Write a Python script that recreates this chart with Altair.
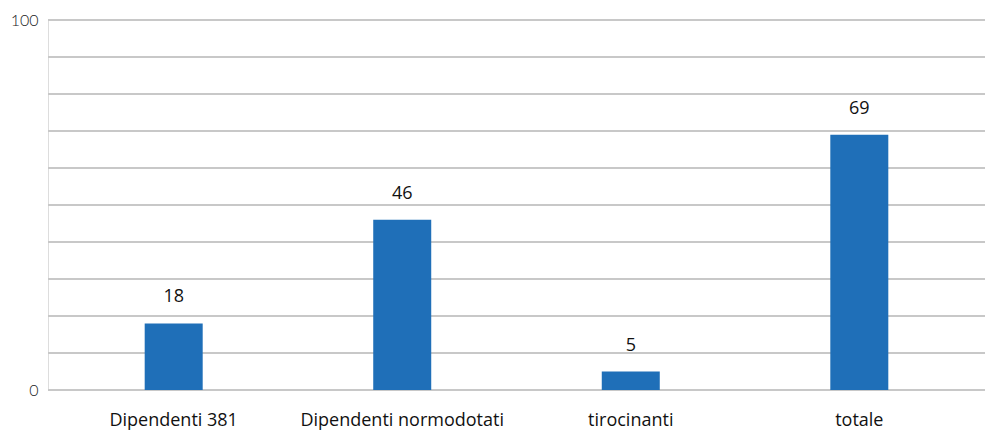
import altair as alt
import pandas as pd

categories = ["Dipendenti 381", "Dipendenti normodotati", "tirocinanti", "totale"]
values = [18, 46, 5, 69]
grid_values = [0, 10, 20, 30, 40, 50, 60, 70, 80, 90, 100]

df = pd.DataFrame({"cat": categories, "val": values})
gdf = pd.DataFrame({"g": grid_values})

yscale = alt.Scale(domain=[0, 100], nice=False)
yaxis = alt.Axis(values=[0, 100], domain=False, ticks=False, grid=False,
                 labelFont="Lato", labelFontSize=16, labelFontWeight=300,
                 labelColor="#222222", labelPadding=10)

grid = alt.Chart(gdf).mark_rule(color="#c8c8c8", strokeWidth=2).encode(
    y=alt.Y("g:Q", scale=yscale, title=None, axis=yaxis))

x = alt.X("cat:N", sort=categories, title=None,
          scale=alt.Scale(paddingInner=0, paddingOuter=0.05),
          axis=alt.Axis(labelAngle=0, domain=False, ticks=False, grid=False,
                        labelFont="Open Sans", labelFontSize=18, labelColor="#111111",
                        labelPadding=21, labelLimit=0))

bars = alt.Chart(df).mark_bar(size=58, color="#1f6fb8").encode(
    x=x, y=alt.Y("val:Q", scale=yscale, title=None, axis=yaxis))
text = alt.Chart(df).mark_text(dy=-26, font="Open Sans", fontSize=18, color="#111111").encode(
    x=x, y=alt.Y("val:Q", scale=yscale, title=None, axis=yaxis), text="val:Q")

chart = (grid + bars + text).resolve_axis(y="shared").properties(
    width=937, height=370,
    padding={"left": 40, "top": 12, "right": 0, "bottom": 40},
    autosize=alt.AutoSizeParams(type="none"),
).configure_view(stroke=None).configure(background="white")

chart.save("out.html", embed_options={"renderer": "svg", "actions": False})
